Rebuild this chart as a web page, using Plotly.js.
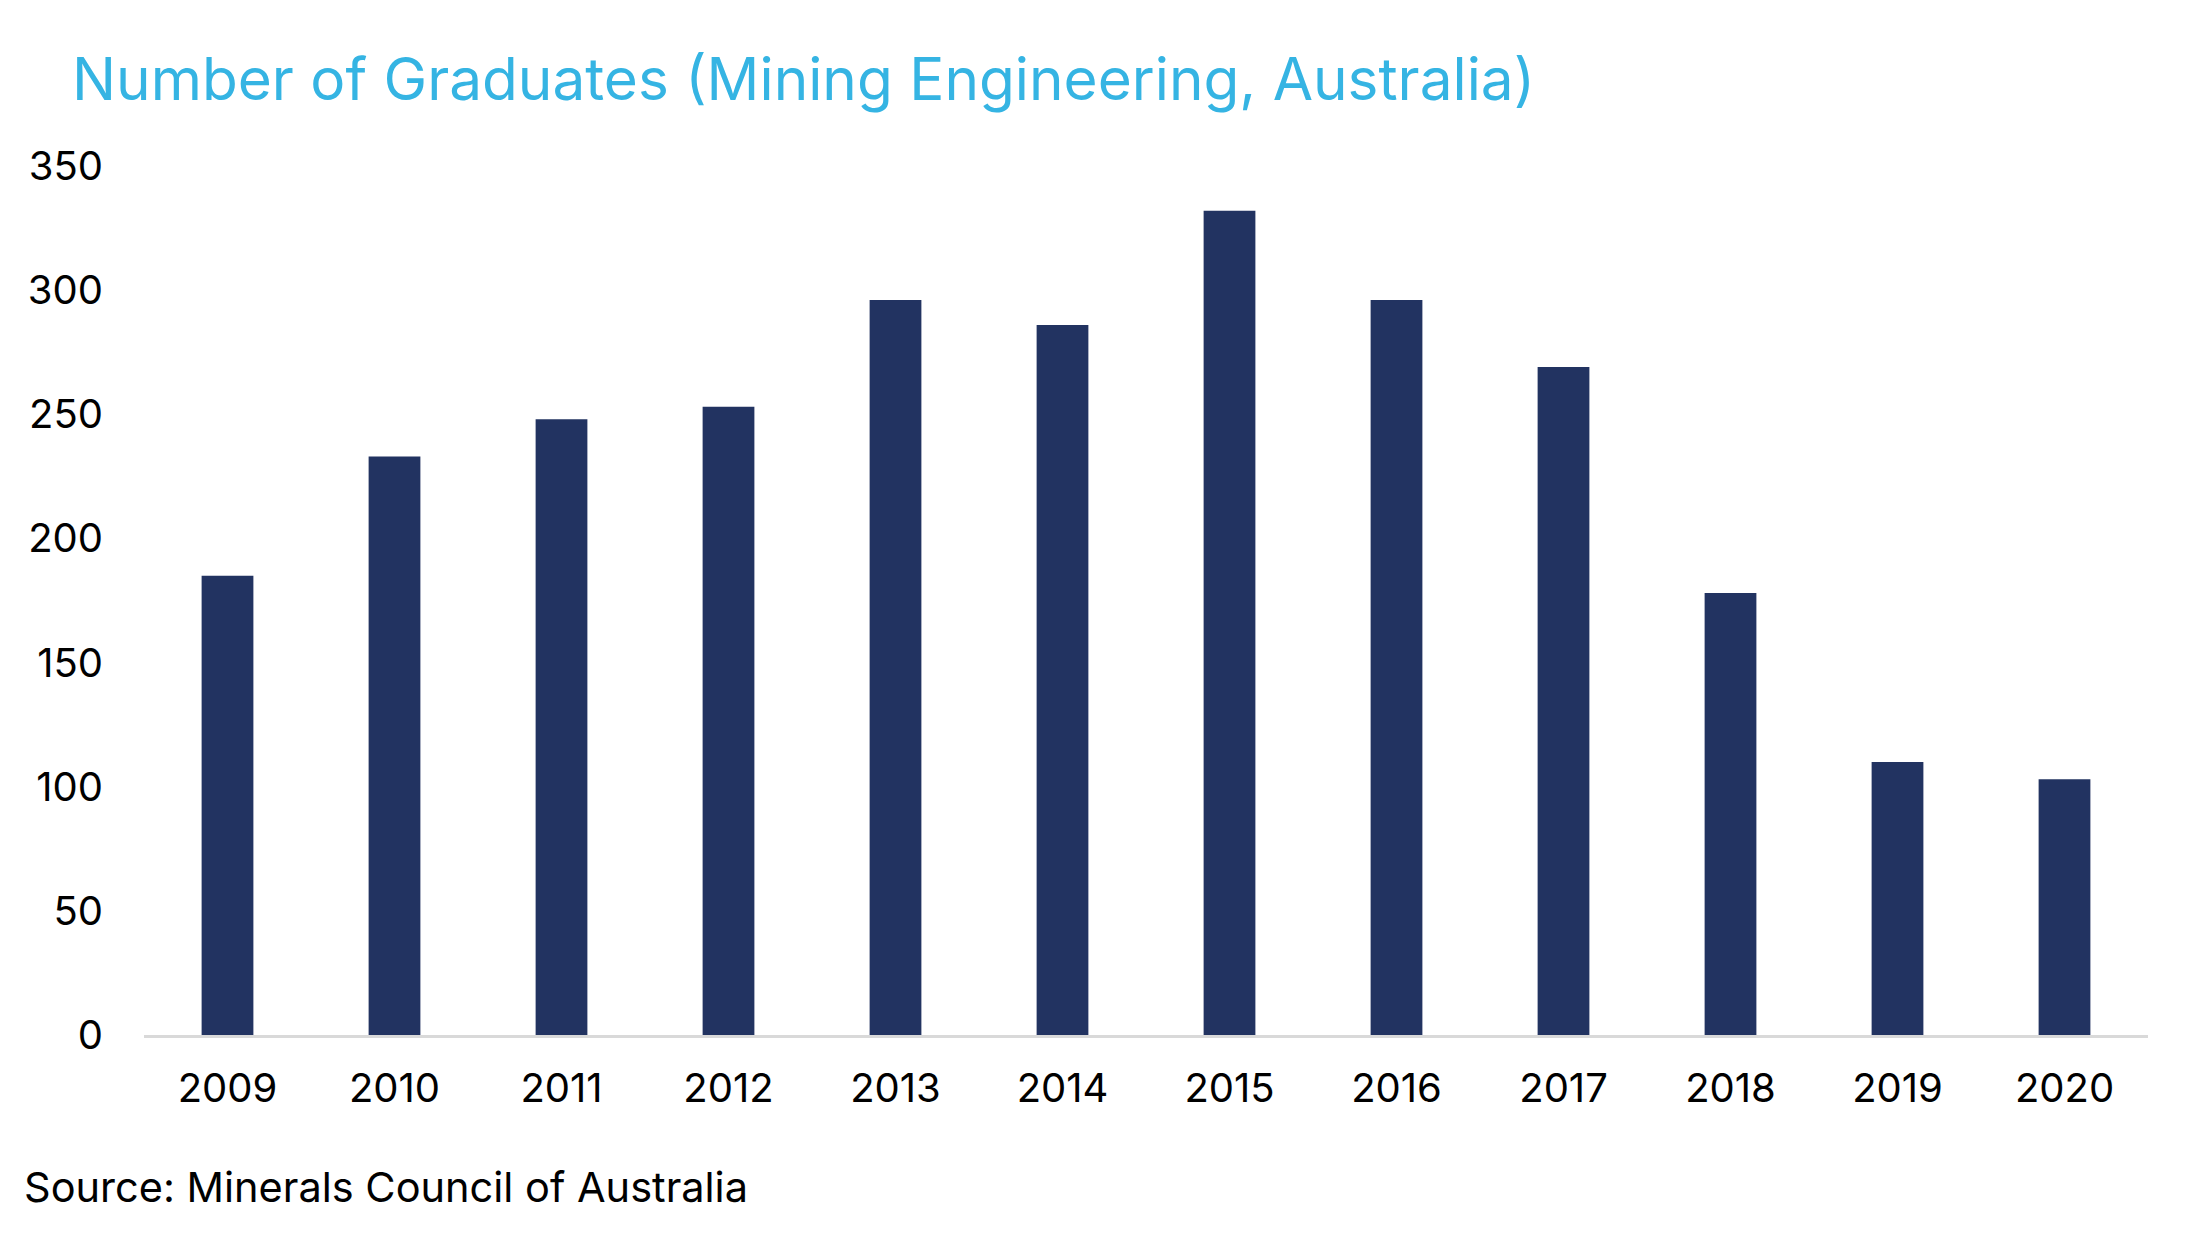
<!DOCTYPE html>
<html>
<head>
<meta charset="utf-8">
<script src="https://cdn.plot.ly/plotly-3.0.1.min.js"></script>
<style>
  html, body { margin: 0; padding: 0; background: #fff; }
  #chart { width: 2199px; height: 1238px; }
</style>
</head>
<body>
<div id="chart"></div>
<script>
// graduates per year
const years = ["2009", "2010", "2011", "2012", "2013", "2014", "2015", "2016", "2017", "2018", "2019", "2020"];
const graduates = [185, 233, 248, 253, 296, 286, 332, 296, 269, 178, 110, 103];
const yTicks = [0, 50, 100, 150, 200, 250, 300, 350];

const FONT = "Inter, Roboto, Arial, sans-serif";

let trace_grads = {
  x: years,
  y: graduates,
  type: "bar",
  width: 0.31,
  marker: { color: "#223361" },
  hoverinfo: "x+y",
};

let layout = {
  width: 2199,
  height: 1238,
  margin: { l: 144, r: 51, t: 166, b: 203 },
  paper_bgcolor: "#fff",
  plot_bgcolor: "#fff",
  showlegend: false,
  font: { family: FONT, color: "#000" },
  title: {
    text: "Number of Graduates (Mining Engineering, Australia)",
    font: { family: FONT, size: 58.5, color: "#35b4e3" },
    xref: "container",
    yref: "container",
    x: 72 / 2199,
    xanchor: "left",
    y: 1 - 80 / 1238,
    yanchor: "middle",
  },
  xaxis: {
    type: "category",
    range: [-0.5, 11.5],
    showline: true,
    linecolor: "#d9d9d9",
    linewidth: 3,
    showgrid: false,
    zeroline: false,
    ticks: "",
    ticklabelstandoff: 16,
    tickfont: { size: 40, color: "#000" },
  },
  yaxis: {
    range: [0, 350],
    tickvals: yTicks,
    showgrid: false,
    zeroline: false,
    showline: false,
    ticks: "",
    ticklabelstandoff: 40,
    tickfont: { size: 40, color: "#000" },
  },
  annotations: [
    {
      text: "Source: Minerals Council of Australia",
      xref: "paper",
      yref: "paper",
      x: (22 - 144) / 2004,
      xanchor: "left",
      y: -(1187 - 1035) / 869,
      yanchor: "middle",
      showarrow: false,
      font: { family: FONT, size: 41.5, color: "#000" },
    },
  ],
  bargap: 0.69,
};

let config = { staticPlot: true };
Plotly.newPlot("chart", [trace_grads], layout, config);
</script>
</body>
</html>
